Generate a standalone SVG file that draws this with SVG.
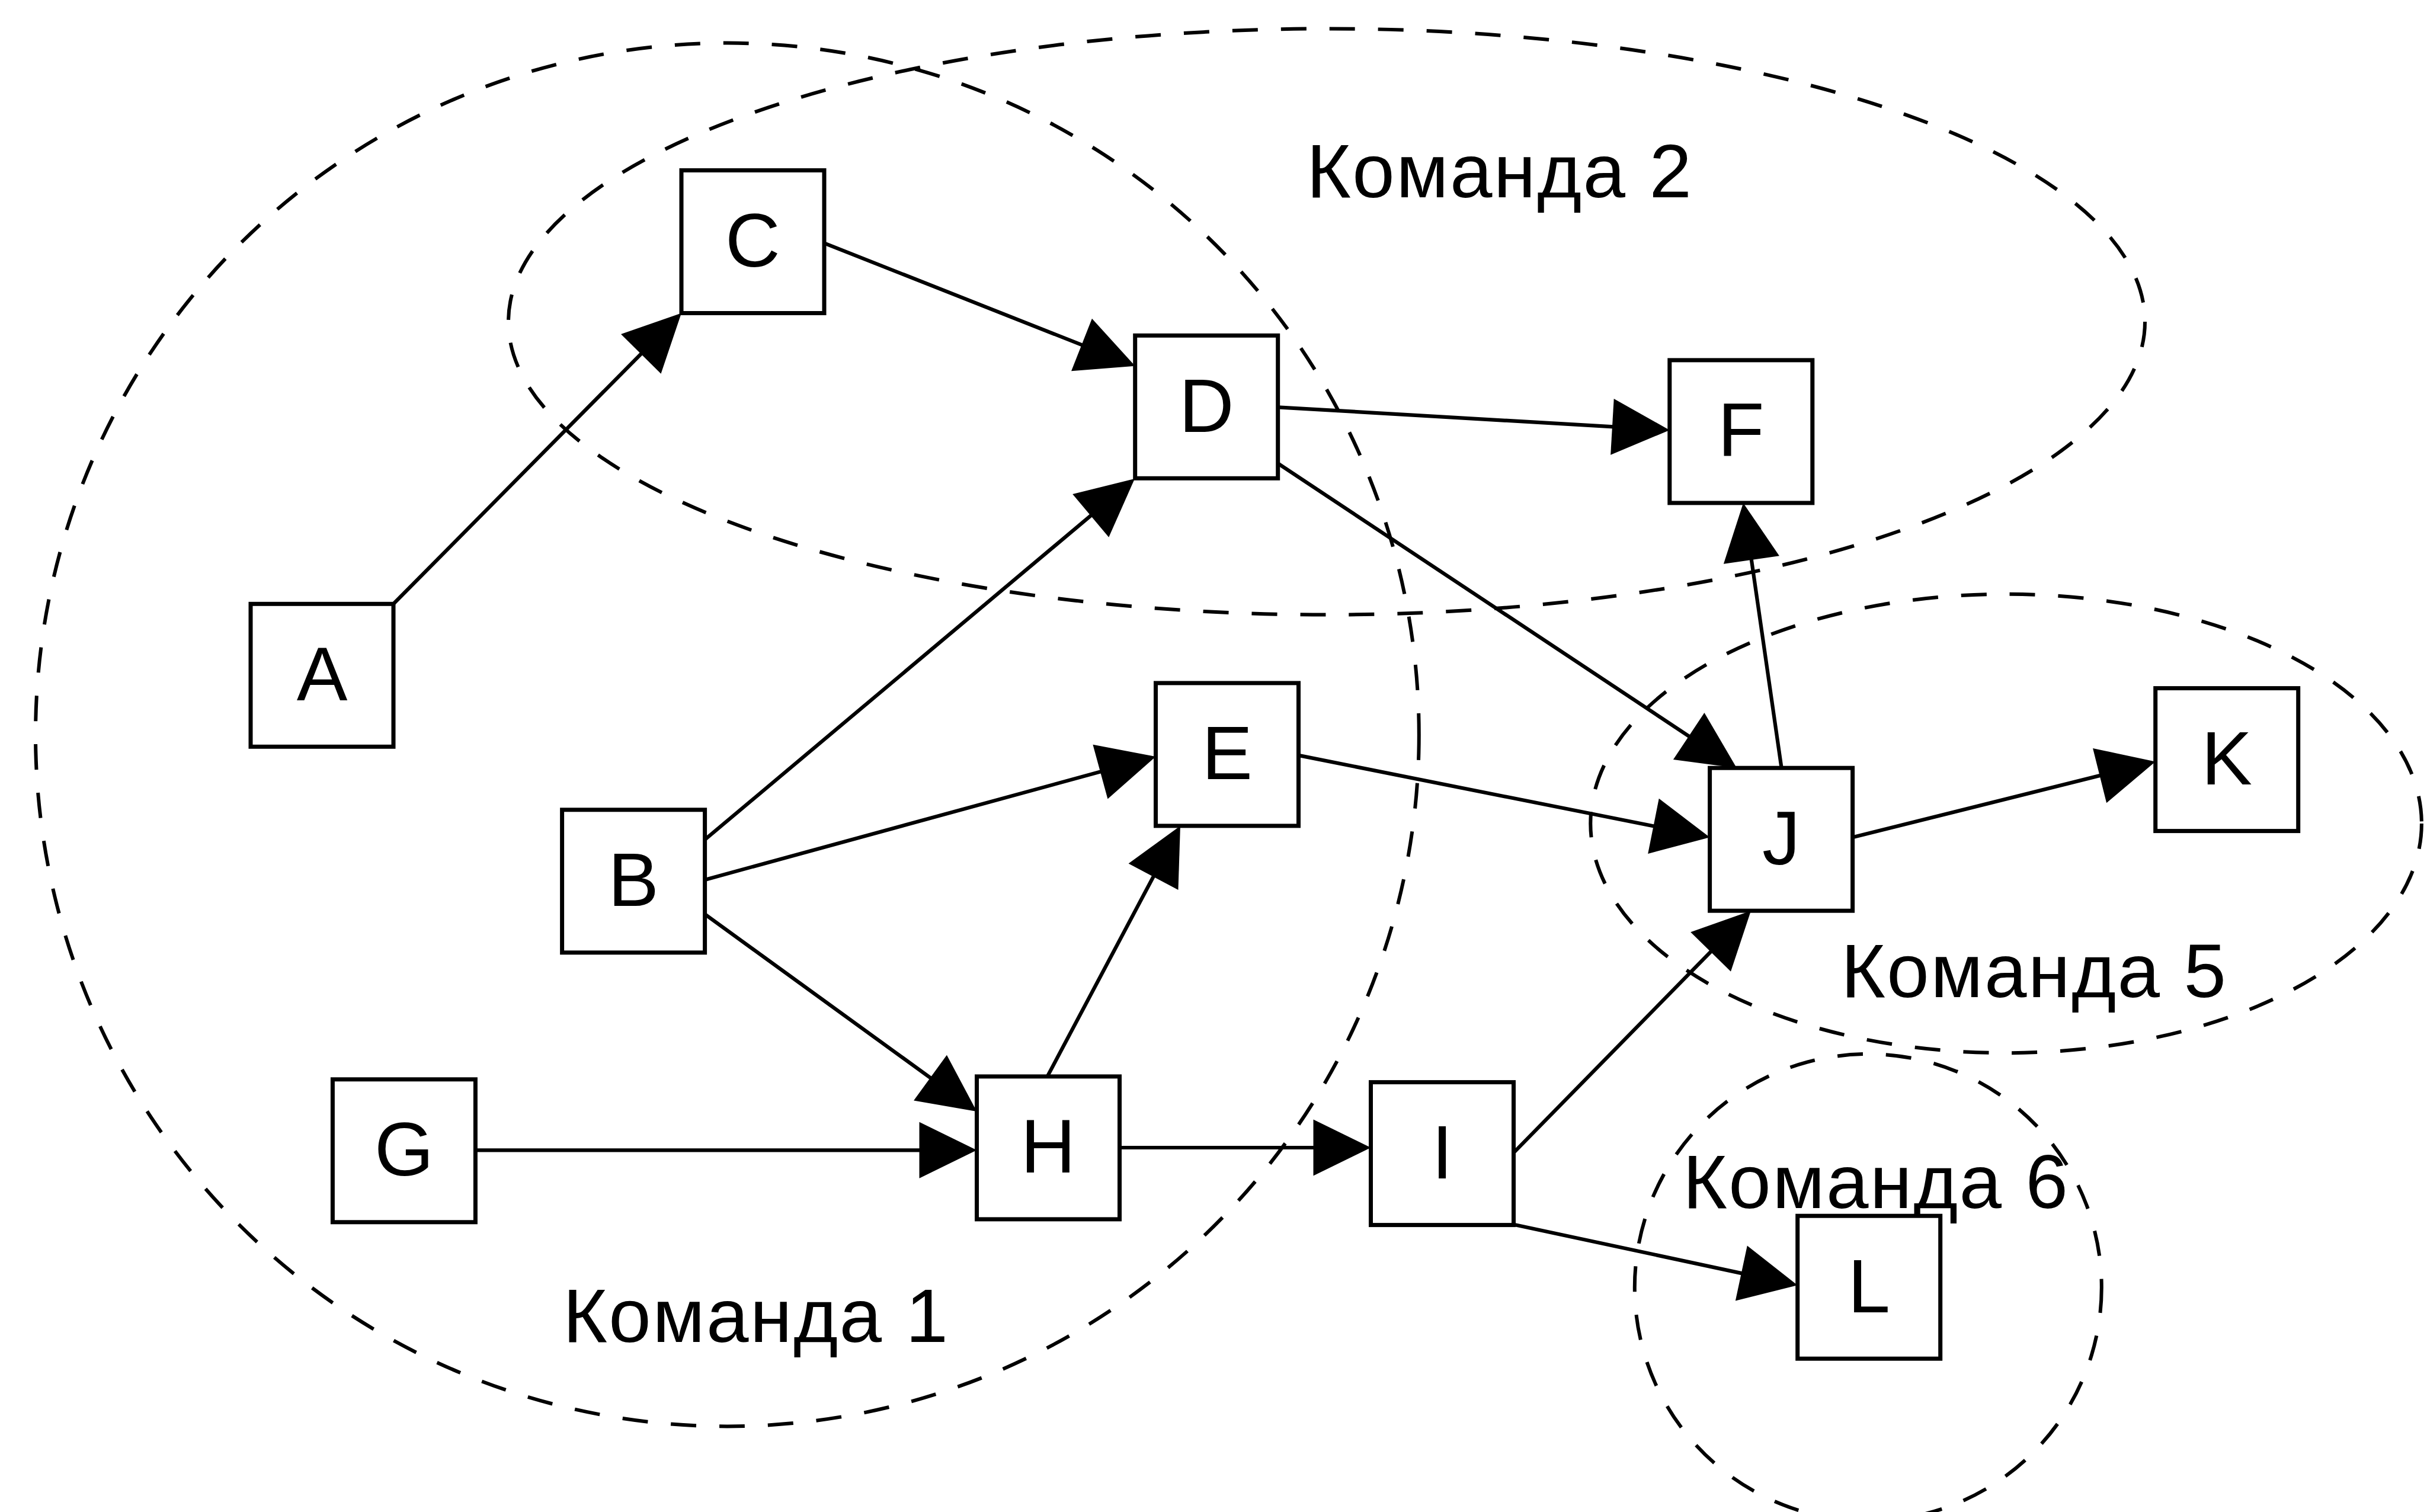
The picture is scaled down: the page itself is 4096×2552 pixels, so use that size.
<svg xmlns="http://www.w3.org/2000/svg" width="4096" height="2552" viewBox="0 0 4096 2552">
  <defs>
    <marker id="arrow" markerUnits="userSpaceOnUse" markerWidth="100" markerHeight="100" refX="77" refY="47.5" orient="auto" overflow="visible">
      <path d="M0,0 L97,47.5 L0,95 Z" fill="#000"/>
    </marker>
    <style>
      .team { fill: none; stroke: #000; stroke-width: 6; stroke-dasharray: 43 39; }
      .edge { fill: none; stroke: #000; stroke-width: 6.2; marker-end: url(#arrow); }
      .box { fill: #fff; stroke: #000; stroke-width: 7; }
      .lbl { font-family: "Liberation Sans", Arial, Helvetica, sans-serif; font-size: 128.5px; fill: #000; }
      .nl { text-anchor: middle; }
    </style>
  </defs>
  <rect width="4096" height="2552" fill="#fff"/>

  <!-- team boundaries -->
  <g id="teams">
    <circle class="team" cx="1227.4" cy="1240" r="1167.4"/>
    <ellipse class="team" cx="2239" cy="543" rx="1381" ry="494.6"/>
    <ellipse class="team" cx="3385.6" cy="1390" rx="701.3" ry="387.2"/>
    <circle class="team" cx="3152.8" cy="2173" r="394"/>
    <text class="lbl" x="950" y="2265" textLength="650" lengthAdjust="spacing">Команда 1</text>
    <text class="lbl" x="2205" y="333" textLength="650" lengthAdjust="spacing">Команда 2</text>
    <text class="lbl" x="3107" y="1683" textLength="650" lengthAdjust="spacing">Команда 5</text>
    <text class="lbl" x="2840" y="2039" textLength="650" lengthAdjust="spacing">Команда 6</text>
  </g>

  <!-- connectors -->
  <g id="edges">
    <line class="edge" x1="664" y1="1019.3" x2="1135.9" y2="542.7"/>
    <line class="edge" x1="1391" y1="410.4" x2="1897.1" y2="610.3"/>
    <line class="edge" x1="2156.7" y1="687.3" x2="2797.8" y2="724.8"/>
    <line class="edge" x1="2156.7" y1="782.1" x2="2914.3" y2="1285.1"/>
    <line class="edge" x1="2191.5" y1="1274.9" x2="2866.0" y2="1409.4"/>
    <line class="edge" x1="3006.6" y1="1296.2" x2="2944.9" y2="868.8"/>
    <line class="edge" x1="3126.6" y1="1413.3" x2="3618.3" y2="1290.4"/>
    <line class="edge" x1="1189.6" y1="1417.2" x2="1899.7" y2="820.9"/>
    <line class="edge" x1="1189.6" y1="1484.9" x2="1931.2" y2="1282.3"/>
    <line class="edge" x1="1189.6" y1="1543" x2="1632.3" y2="1864.3"/>
    <line class="edge" x1="802.4" y1="1941.3" x2="1628.5" y2="1941.3"/>
    <line class="edge" x1="1767.6" y1="1816.9" x2="1982.6" y2="1411.7"/>
    <line class="edge" x1="1889.5" y1="1937" x2="2293.5" y2="1937"/>
    <line class="edge" x1="2554.5" y1="1945.7" x2="2941.0" y2="1551.5"/>
    <line class="edge" x1="2554.5" y1="2066.7" x2="3014.1" y2="2165.1"/>
  </g>

  <!-- nodes -->
  <g id="node-A"><rect class="box" x="423" y="1019.3" width="241" height="241"/><text class="lbl nl" x="543.5" y="1181.8">A</text></g>
  <g id="node-B"><rect class="box" x="948.6" y="1366.8" width="241" height="241"/><text class="lbl nl" x="1069.1" y="1529.3">B</text></g>
  <g id="node-C"><rect class="box" x="1150" y="287.5" width="241" height="241"/><text class="lbl nl" x="1270.5" y="450">C</text></g>
  <g id="node-D"><rect class="box" x="1915.7" y="566.3" width="241" height="241"/><text class="lbl nl" x="2036.2" y="728.8">D</text></g>
  <g id="node-E"><rect class="box" x="1950.5" y="1152.9" width="241" height="241"/><text class="lbl nl" x="2071" y="1315.4">E</text></g>
  <g id="node-F"><rect class="box" x="2817.8" y="607.9" width="241" height="241"/><text class="lbl nl" x="2938.3" y="770.4">F</text></g>
  <g id="node-G"><rect class="box" x="561.4" y="1821.8" width="241" height="241"/><text class="lbl nl" x="681.9" y="1984.3">G</text></g>
  <g id="node-H"><rect class="box" x="1648.5" y="1816.9" width="241" height="241"/><text class="lbl nl" x="1769" y="1979.4">H</text></g>
  <g id="node-I"><rect class="box" x="2313.5" y="1826.6" width="241" height="241"/><text class="lbl nl" x="2434" y="1989.1">I</text></g>
  <g id="node-J"><rect class="box" x="2885.6" y="1296.2" width="241" height="241"/><text class="lbl nl" x="3006.1" y="1458.7">J</text></g>
  <g id="node-K"><rect class="box" x="3637.7" y="1161.6" width="241" height="241"/><text class="lbl nl" x="3758.2" y="1324.1">K</text></g>
  <g id="node-L"><rect class="box" x="3033.7" y="2052.2" width="241" height="241"/><text class="lbl nl" x="3154.2" y="2214.7">L</text></g>
</svg>
